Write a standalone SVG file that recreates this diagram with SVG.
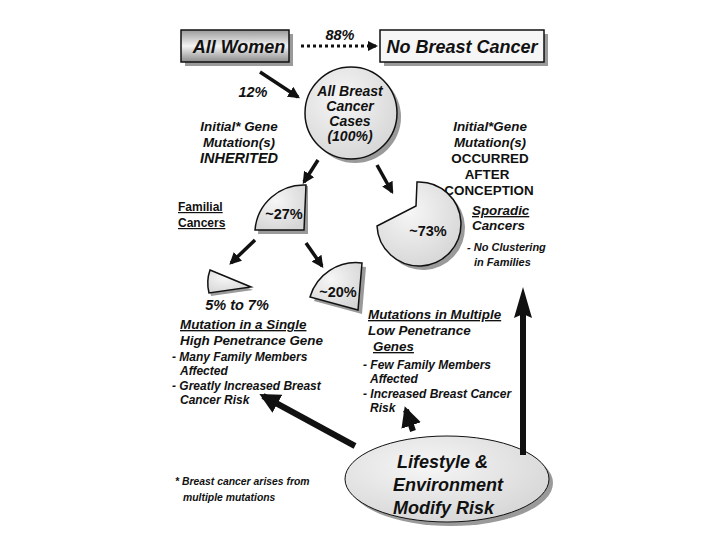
<svg xmlns="http://www.w3.org/2000/svg" width="720" height="540" viewBox="0 0 720 540">
<defs>
<linearGradient id="gW" x1="0" y1="0" x2="0" y2="1"><stop offset="0" stop-color="#9a9a9a"/><stop offset="0.5" stop-color="#f4f4f4"/><stop offset="1" stop-color="#8c8c8c"/></linearGradient>
<radialGradient id="gC" cx="0.4" cy="0.35" r="0.7"><stop offset="0" stop-color="#f6f6f6"/><stop offset="1" stop-color="#d6d6d6"/></radialGradient>
<marker id="ah" viewBox="0 0 10 10" refX="8" refY="5" markerWidth="3.4" markerHeight="3.4" orient="auto"><path d="M0,0 L10,5 L0,10 z" fill="#111"/></marker>
</defs>
<style>
text{font-family:"Liberation Sans",Arial,sans-serif;font-weight:bold;font-style:italic;fill:#111}
.big{font-size:18px}
.c{font-size:14px}
.p{font-size:14.5px}
.mid{font-size:13.4px}
.sm{font-size:12px}
.xs{font-size:11px}
.fn{font-size:10.4px}
.u{text-decoration:underline}
.n{font-style:normal}
.sh{fill:#9a9a9a}
.pie{fill:url(#gC);stroke:#111;stroke-width:1.5}
.ar{stroke:#111;fill:none}
</style>
<rect width="720" height="540" fill="#fff"/>

<g id="allWomen">
<rect x="185" y="34" width="108" height="32" class="sh"/>
<rect x="181" y="30" width="108" height="32" fill="url(#gW)" stroke="#111" stroke-width="1.5"/>
<text x="239" y="53" class="big" text-anchor="middle">All Women</text>
</g>
<g id="noBreastCancer">
<rect x="384" y="34" width="164" height="32" class="sh"/>
<rect x="380" y="30" width="164" height="32" fill="#f6f6f6" stroke="#111" stroke-width="1.5"/>
<text x="462" y="53" class="big" text-anchor="middle">No Breast Cancer</text>
</g>
<g id="allCases">
<circle cx="355" cy="117" r="46" class="sh"/>
<circle cx="351" cy="113" r="46" fill="url(#gC)" stroke="#111" stroke-width="1.5"/>
<text x="350" y="96" class="c" text-anchor="middle">All Breast</text>
<text x="350" y="111" class="c" text-anchor="middle">Cancer</text>
<text x="350" y="126" class="c" text-anchor="middle">Cases</text>
<text x="350" y="141" class="c" text-anchor="middle">(100%)</text>
</g>
<g id="inherited">
<text x="239" y="131" class="mid" text-anchor="middle">Initial* Gene</text>
<text x="239" y="147" class="mid" text-anchor="middle">Mutation(s)</text>
<text x="239" y="163" class="p" text-anchor="middle">INHERITED</text>
</g>
<g id="afterConception">
<text x="490" y="131" class="mid" text-anchor="middle">Initial*Gene</text>
<text x="490" y="147" class="mid" text-anchor="middle">Mutation(s)</text>
<text x="490" y="163" class="mid n" text-anchor="middle">OCCURRED</text>
<text x="487" y="179" class="mid n" text-anchor="middle">AFTER</text>
<text x="489" y="195" class="mid n" text-anchor="middle">CONCEPTION</text>
</g>
<g id="familial">
<path d="M308,234 L258,234 A48,48 0 0 1 308,186 Z" class="sh"/>
<path d="M304,230 L255,230 A49,49 0 0 1 306,185 Z" class="pie"/>
<text x="284" y="219" class="p n" text-anchor="middle">~27%</text>
<text x="178" y="211" class="sm n u">Familial</text>
<text x="178" y="227" class="sm n u">Cancers</text>
</g>
<g id="sporadic">
<path d="M421,186 L420,210 L381,230 A42,42 0 1 0 421,186 Z" class="sh"/>
<path d="M417,182 L416,206 L377,226 A42,42 0 1 0 417,182 Z" class="pie"/>
<text x="428" y="236" class="p n" text-anchor="middle">~73%</text>
<text x="472" y="215" class="mid u">Sporadic</text>
<text x="472" y="230" class="mid">Cancers</text>
<text x="467" y="251" class="xs">- No Clustering</text>
<text x="474" y="266" class="xs">in Families</text>
</g>
<g id="single">
<path d="M212,273 L253,290 L211,296 A40,40 0 0 1 212,273 Z" class="sh"/>
<path d="M210,270 L251,287 L209,293 A40,40 0 0 1 210,270 Z" class="pie"/>
<text x="237" y="310" class="p" text-anchor="middle">5% to 7%</text>
<text x="180" y="329" class="mid u">Mutation in a  Single</text>
<text x="180" y="345" class="mid">High Penetrance Gene</text>
<text x="172" y="361" class="sm">- Many Family Members</text>
<text x="180" y="375" class="sm">Affected</text>
<text x="172" y="390" class="sm">- Greatly Increased Breast</text>
<text x="180" y="404" class="sm">Cancer Risk</text>
</g>
<g id="multiple">
<path d="M362,314 L314,301 A48,48 0 0 1 366,267 Z" class="sh"/>
<path d="M358,310 L310,297 A48,48 0 0 1 362,263 Z" class="pie"/>
<text x="338" y="297" class="p n" text-anchor="middle">~20%</text>
<text x="368" y="319" class="mid u">Mutations in Multiple</text>
<text x="368" y="335" class="mid">Low Penetrance</text>
<text x="373" y="351" class="mid u"> Genes</text>
<text x="363" y="369" class="sm">- Few Family Members</text>
<text x="370" y="383" class="sm">Affected</text>
<text x="363" y="398" class="sm">- Increased Breast Cancer</text>
<text x="370" y="412" class="sm">Risk</text>
</g>
<g id="lifestyle">
<ellipse cx="451" cy="483" rx="102" ry="43" class="sh"/>
<ellipse cx="447" cy="479" rx="102" ry="43" fill="url(#gC)" stroke="#111" stroke-width="1"/>
<text x="397" y="468" class="big">Lifestyle &amp;</text>
<text x="393" y="491" class="big">Environment</text>
<text x="393" y="514" class="big">Modify Risk</text>
</g>
<g id="footnote">
<text x="175" y="485" class="fn">* Breast cancer arises from</text>
<text x="183" y="501" class="fn">multiple mutations</text>
</g>
<g id="connectors">
<line x1="301" y1="46" x2="376" y2="46" class="ar" stroke-width="3" stroke-dasharray="3,3" marker-end="url(#ah)"/>
<text x="340" y="40" class="p" text-anchor="middle">88%</text>
<line x1="260" y1="72" x2="298" y2="97" class="ar" stroke-width="3.5" marker-end="url(#ah)"/>
<text x="253" y="97" class="p" text-anchor="middle">12%</text>
<line x1="318" y1="160" x2="304" y2="182" class="ar" stroke-width="3.5" marker-end="url(#ah)"/>
<line x1="377" y1="165" x2="392" y2="192" class="ar" stroke-width="3.5" marker-end="url(#ah)"/>
<line x1="255" y1="240" x2="231" y2="263" class="ar" stroke-width="3.5" marker-end="url(#ah)"/>
<line x1="306" y1="243" x2="322" y2="266" class="ar" stroke-width="3.5" marker-end="url(#ah)"/>
<line x1="355" y1="446" x2="263" y2="396" class="ar" stroke-width="6" marker-end="url(#ah)"/>
<line x1="413" y1="431" x2="406" y2="410" class="ar" stroke-width="6" marker-end="url(#ah)"/>
<line x1="523" y1="455" x2="523" y2="312" class="ar" stroke-width="6"/>
<path d="M523,287 L532,318 L523,314 L514,318 Z" fill="#111"/>
</g>
</svg>
